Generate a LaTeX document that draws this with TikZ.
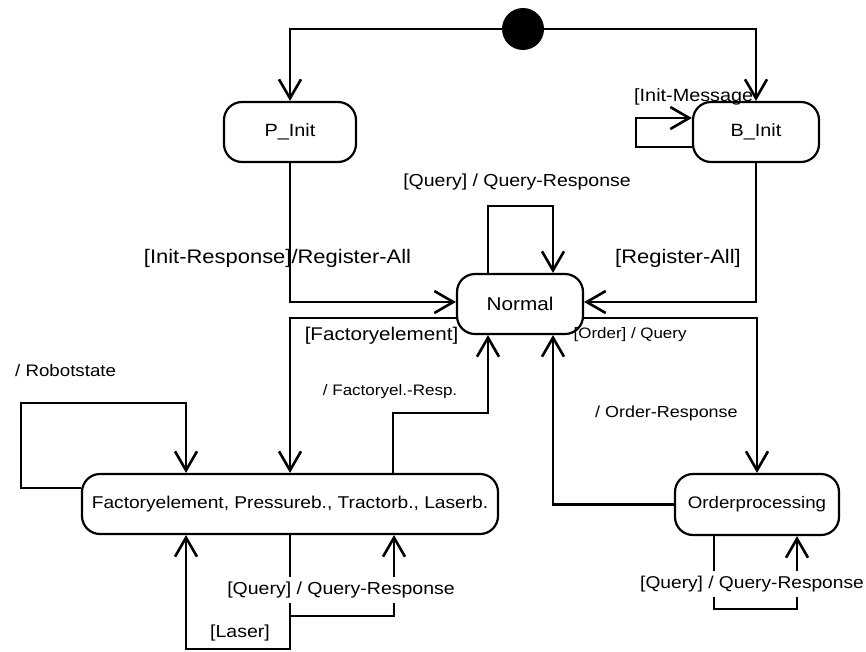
\documentclass[tikz,border=0pt]{standalone}
\usepackage{fontspec}
\setmainfont{Liberation Sans}[FakeStretch=1.12]
\usetikzlibrary{arrows.meta}
\newcommand\fsz[1]{\fontsize{#1pt}{#1pt}\selectfont}

\begin{document}
\begin{tikzpicture}[x=1pt,y=-1pt,
  state/.style={draw, line width=2.2pt, rounded corners=18pt, inner sep=0pt,
                fill=white, minimum height=60pt},
  link/.style={line width=2.6pt},
  arr/.style={link, -{Straight Barb[length=19pt,width=22pt]}},
  lbl/.style={inner sep=0pt, font=\fsz{17.4}},
  gap/.style={lbl, fill=white, inner sep=5pt},
]
\fill[white] (0,0) rectangle (866,651);
\useasboundingbox (0,0) rectangle (866,651);

% states
\node[circle, fill=black, minimum size=42pt, inner sep=0pt] (init) at (523,29) {};
\node[state, minimum width=132pt, font=\fsz{17.7}] (pinit) at (290,132) {P\_Init};
\node[state, minimum width=126pt, font=\fsz{17.7}] (binit) at (756,132) {B\_Init};
\node[state, minimum width=126pt, font=\fsz{18.5}] (normal) at (520,304) {Normal};
\node[state, minimum width=416pt, font=\fsz{17.1}] (factory) at (290,504)
  {Factoryelement, Pressureb., Tractorb., Laserb.};
\node[state, minimum width=164pt, minimum height=61pt, font=\fsz{16.7}] (order) at (757,504.5)
  {Orderprocessing};

% bend points of the self loops
\coordinate (rsbend) at (21,403);
\coordinate (imbend) at (636,118);

% transitions
\draw[arr] (init.west) -| (pinit.north);
\draw[arr] (init.east) -| (binit.north);
\draw[arr] (pinit.south) |- ([yshift=2pt]normal.west);
\draw[arr] ([yshift=-14pt]normal.west) -| (factory.north);
\draw[arr] (binit.south) |- ([yshift=2pt]normal.east);
\draw[arr] ([yshift=-14pt]normal.east) -| (order.north);
\draw[arr] (order.west) -| ([xshift=33pt]normal.south);
\draw[arr] ([xshift=103pt]factory.north) -- ++(0,-60) -| ([xshift=-32pt]normal.south);
\draw[arr] ([xshift=-32pt]normal.north) -- ++(0,-67) -| ([xshift=33pt]normal.north);
\draw[arr] ([yshift=16pt]factory.west) -| (rsbend) -| ([xshift=-104pt]factory.north);
\draw[arr] (factory.south) -- ++(0,81) -| ([xshift=104pt]factory.south);
\draw[arr] (factory.south) -- ++(0,114) -| ([xshift=-104pt]factory.south);
\draw[arr] ([xshift=-43pt]order.south) -- ++(0,73) -| ([xshift=40pt]order.south);
\draw[arr] ([yshift=-15pt]binit.west) -| (imbend) -- ([yshift=14pt]binit.west);

% transition labels
\node[lbl] (lqn) at (517,182) {[Query] / Query-Response};
\node[lbl, font=\fsz{19.6}] (lir) at (277.5,258) {[Init-Response]/Register-All};
\node[lbl, font=\fsz{19.6}, anchor=west] (lra) at (615,258) {[Register-All]};
\node[lbl, font=\fsz{18.4}] (lfe) at (381.5,336) {[Factoryelement]};
\node[lbl, font=\fsz{15.1}, anchor=west] (loq) at (573.5,335) {[Order] / Query};
\node[lbl, font=\fsz{16.7}, anchor=west] (lrs) at (15,371) {/ Robotstate};
\node[lbl, font=\fsz{15.2}, anchor=west] (lfr) at (322.7,392) {/ Factoryel.-Resp.};
\node[lbl, font=\fsz{16}, anchor=west] (lor) at (595,413) {/ Order-Response};
\node[gap] (lqf) at (341,590) {[Query] / Query-Response};
\node[lbl] (lla) at (240,633) {[Laser]};
\node[gap, font=\fsz{17.1}] (lqo) at (752,584) {[Query] / Query-Response};
\node[lbl, font=\fsz{17.7}, anchor=west] (lim) at (634,97) {[Init-Message};
\end{tikzpicture}
\end{document}
